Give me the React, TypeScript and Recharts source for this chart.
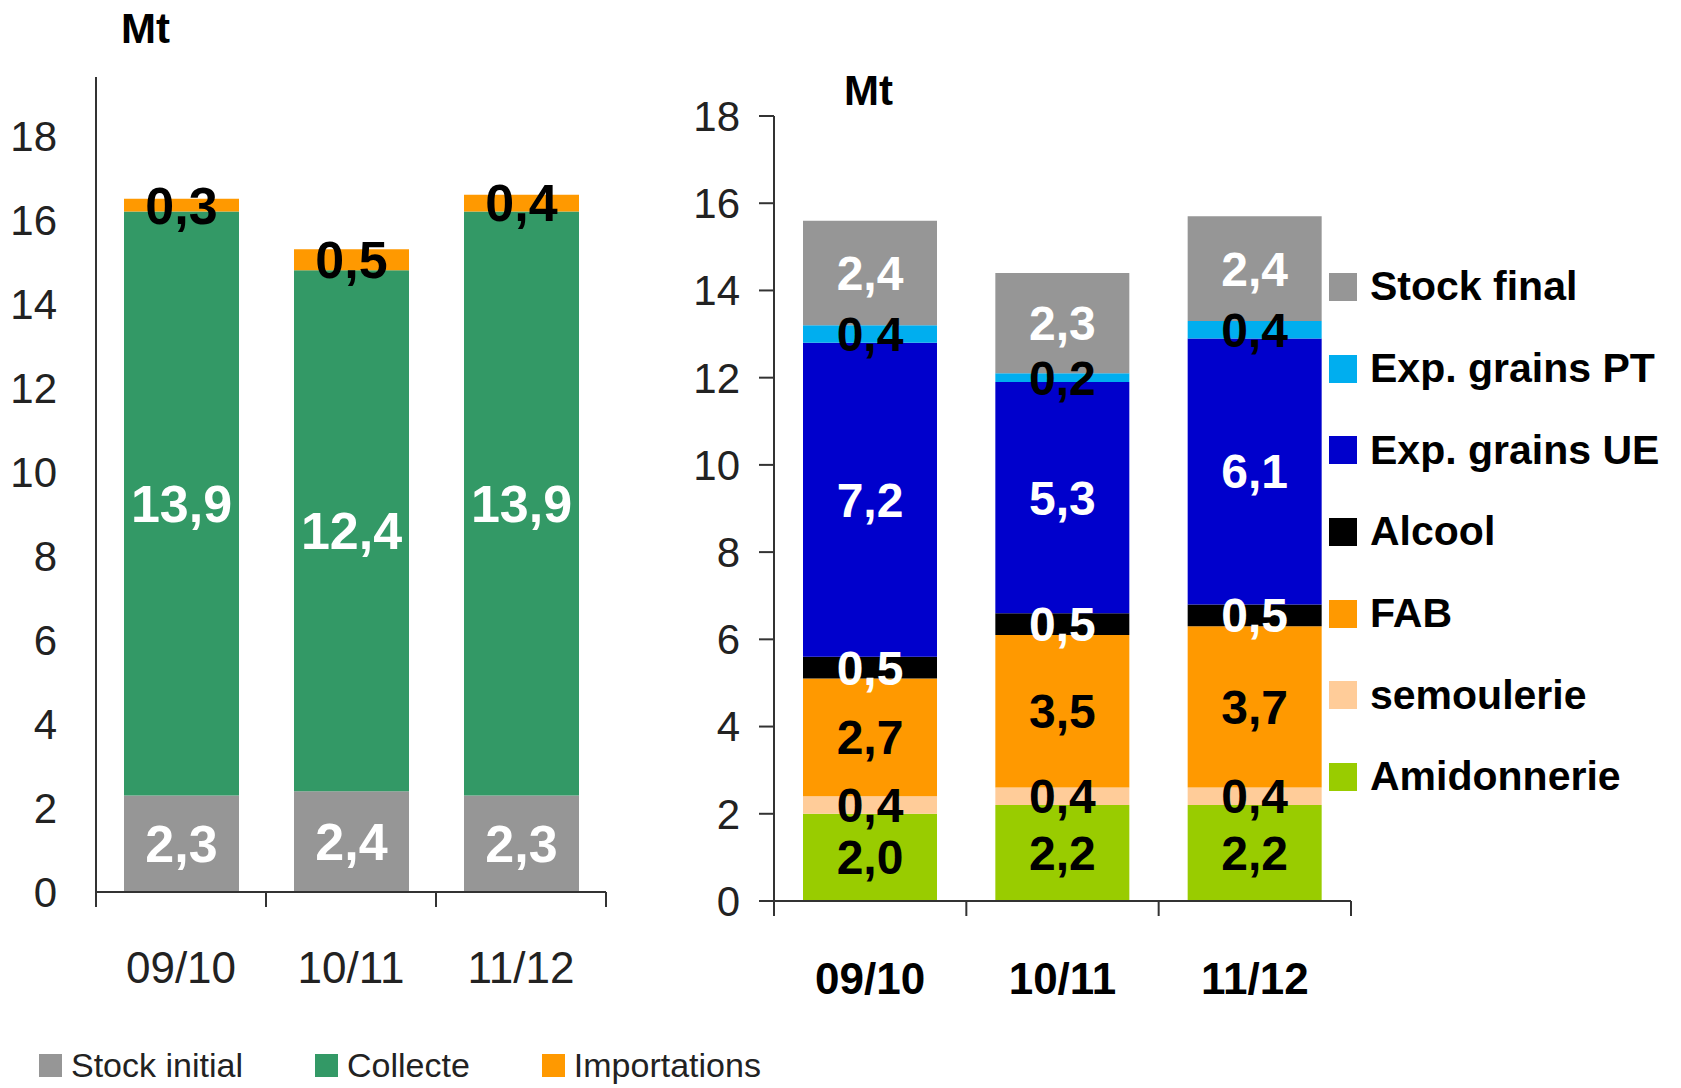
import React from "react";
import { BarChart, Bar, XAxis, YAxis, LabelList } from "recharts";

const SEASONS = ["09/10", "10/11", "11/12"];

// ressources (Mt)
const STOCK_INITIAL = [2.3, 2.4, 2.3];
const COLLECTE = [13.9, 12.4, 13.9];
const IMPORTATIONS = [0.3, 0.5, 0.4];

// utilisations (Mt)
const AMIDONNERIE = [2.0, 2.2, 2.2];
const SEMOULERIE = [0.4, 0.4, 0.4];
const FAB = [2.7, 3.5, 3.7];
const ALCOOL = [0.5, 0.5, 0.5];
const EXP_UE = [7.2, 5.3, 6.1];
const EXP_PT = [0.4, 0.2, 0.4];
const STOCK_FINAL = [2.4, 2.3, 2.4];

const Y_TICKS = [0, 2, 4, 6, 8, 10, 12, 14, 16, 18];

const FONT = '"Liberation Sans", Arial, sans-serif';
const AXIS = "#333";

const LEFT_SERIES = [
  { key: "stockInitial", name: "Stock initial", color: "#969696", label: "#fff" },
  { key: "collecte", name: "Collecte", color: "#339966", label: "#fff" },
  { key: "importations", name: "Importations", color: "#FF9900", label: "#000" },
];

const RIGHT_SERIES = [
  { key: "amidonnerie", name: "Amidonnerie", color: "#99CC00", label: "#000" },
  { key: "semoulerie", name: "semoulerie", color: "#FFCC99", label: "#000" },
  { key: "fab", name: "FAB", color: "#FF9900", label: "#000" },
  { key: "alcool", name: "Alcool", color: "#000000", label: "#fff" },
  { key: "expUE", name: "Exp. grains UE", color: "#0000CC", label: "#fff" },
  { key: "expPT", name: "Exp. grains PT", color: "#00AEEF", label: "#000" },
  { key: "stockFinal", name: "Stock final", color: "#969696", label: "#fff" },
];

const leftData = SEASONS.map((season, i) => ({
  season,
  stockInitial: STOCK_INITIAL[i],
  collecte: COLLECTE[i],
  importations: IMPORTATIONS[i],
}));

const rightData = SEASONS.map((season, i) => ({
  season,
  amidonnerie: AMIDONNERIE[i],
  semoulerie: SEMOULERIE[i],
  fab: FAB[i],
  alcool: ALCOOL[i],
  expUE: EXP_UE[i],
  expPT: EXP_PT[i],
  stockFinal: STOCK_FINAL[i],
}));

const fmt = (v: any) => Number(v).toFixed(1).replace(".", ",");

// x ticks drawn at the category edges, like the original spreadsheet chart
function seasonTick(half: number, bold: boolean, textOffset: number) {
  return (props: any) => {
    const { x, y, payload, index, visibleTicksCount } = props;
    const last = index === (visibleTicksCount ?? SEASONS.length) - 1;
    return (
      <g>
        <line x1={x - half} y1={y} x2={x - half} y2={y + 15} stroke={AXIS} strokeWidth={2} />
        {last && <line x1={x + half} y1={y} x2={x + half} y2={y + 15} stroke={AXIS} strokeWidth={2} />}
        <text
          x={x}
          y={y + textOffset}
          textAnchor="middle"
          fontFamily={FONT}
          fontSize={44}
          fontWeight={bold ? "bold" : "normal"}
          fill={bold ? "#000" : "#222"}
        >
          {payload.value}
        </text>
      </g>
    );
  };
}

const LEFT_W = 640;
const LEFT_H = 1030;
const LEFT_MARGIN = { top: 77, right: 34, bottom: 28, left: 0 };
const LEFT_YW = 96;
const LEFT_XH = 110;
const leftHalf = (LEFT_W - LEFT_MARGIN.left - LEFT_MARGIN.right - LEFT_YW) / SEASONS.length / 2;

const RIGHT_W = 760;
const RIGHT_H = 1030;
const RIGHT_MARGIN = { top: 116, right: 49, bottom: 19, left: 0 };
const RIGHT_YW = 134;
const RIGHT_XH = 110;
const rightHalf = (RIGHT_W - RIGHT_MARGIN.left - RIGHT_MARGIN.right - RIGHT_YW) / SEASONS.length / 2;

export default function App() {
  return (
    <div
      style={{
        position: "absolute",
        left: 0,
        top: 0,
        width: 1681,
        height: 1088,
        background: "#fff",
        fontFamily: FONT,
        overflow: "hidden",
      }}
    >
      <div style={{ position: "absolute", left: 121, top: 8, fontSize: 42, fontWeight: "bold", lineHeight: "42px" }}>Mt</div>
      <div style={{ position: "absolute", left: 844, top: 70, fontSize: 42, fontWeight: "bold", lineHeight: "42px" }}>Mt</div>

      <div style={{ position: "absolute", left: 0, top: 0 }}>
        <BarChart width={LEFT_W} height={LEFT_H} data={leftData} margin={LEFT_MARGIN} barSize={115}>
          <XAxis
            dataKey="season"
            interval={0}
            height={LEFT_XH}
            tickSize={0}
            tickMargin={0}
            axisLine={{ stroke: AXIS, strokeWidth: 2 }}
            tickLine={false}
            tick={seasonTick(leftHalf, false, 91)}
          />
          <YAxis
            width={LEFT_YW}
            domain={[0, 19.4]}
            ticks={Y_TICKS}
            interval={0}
            tickSize={0}
            tickMargin={39}
            tickLine={false}
            axisLine={{ stroke: AXIS, strokeWidth: 2 }}
            tick={{ fill: "#222", fontSize: 42, fontFamily: FONT }}
          />
          {LEFT_SERIES.map((s) => (
            <Bar key={s.key} dataKey={s.key} name={s.name} stackId="a" fill={s.color} isAnimationActive={false}>
              <LabelList
                dataKey={s.key}
                position="center"
                formatter={fmt}
                fill={s.label}
                fontSize={52}
                fontWeight="bold"
                fontFamily={FONT}
              />
            </Bar>
          ))}
        </BarChart>
      </div>

      <div style={{ position: "absolute", left: 640, top: 0 }}>
        <BarChart width={RIGHT_W} height={RIGHT_H} data={rightData} margin={RIGHT_MARGIN} barSize={134}>
          <XAxis
            dataKey="season"
            interval={0}
            height={RIGHT_XH}
            tickSize={0}
            tickMargin={0}
            axisLine={{ stroke: AXIS, strokeWidth: 2 }}
            tickLine={false}
            tick={seasonTick(rightHalf, true, 93)}
          />
          <YAxis
            width={RIGHT_YW}
            domain={[0, 18]}
            ticks={Y_TICKS}
            interval={0}
            tickSize={15}
            tickMargin={19}
            tickLine={{ stroke: AXIS, strokeWidth: 2 }}
            axisLine={{ stroke: AXIS, strokeWidth: 2 }}
            tick={{ fill: "#222", fontSize: 42, fontFamily: FONT }}
          />
          {RIGHT_SERIES.map((s) => (
            <Bar key={s.key} dataKey={s.key} name={s.name} stackId="b" fill={s.color} isAnimationActive={false}>
              <LabelList
                dataKey={s.key}
                position="center"
                formatter={fmt}
                fill={s.label}
                fontSize={48}
                fontWeight="bold"
                fontFamily={FONT}
              />
            </Bar>
          ))}
        </BarChart>
      </div>

      {/* right legend, top series first */}
      <div style={{ position: "absolute", left: 1329, top: 246 }}>
        {[...RIGHT_SERIES].reverse().map((s) => (
          <div key={s.key} style={{ display: "flex", alignItems: "center", height: 81.7 }}>
            <div style={{ width: 28, height: 28, background: s.color, marginRight: 13 }} />
            <span style={{ fontSize: 41, fontWeight: "bold", lineHeight: "41px", color: "#000" }}>{s.name}</span>
          </div>
        ))}
      </div>

      {/* bottom legend of the left chart */}
      <div style={{ position: "absolute", left: 39, top: 1045, display: "flex", alignItems: "center", gap: 72 }}>
        {LEFT_SERIES.map((s) => (
          <div key={s.key} style={{ display: "flex", alignItems: "center" }}>
            <div style={{ width: 23, height: 23, background: s.color, marginRight: 9 }} />
            <span style={{ fontSize: 34, lineHeight: "40px", color: "#222" }}>{s.name}</span>
          </div>
        ))}
      </div>
    </div>
  );
}
